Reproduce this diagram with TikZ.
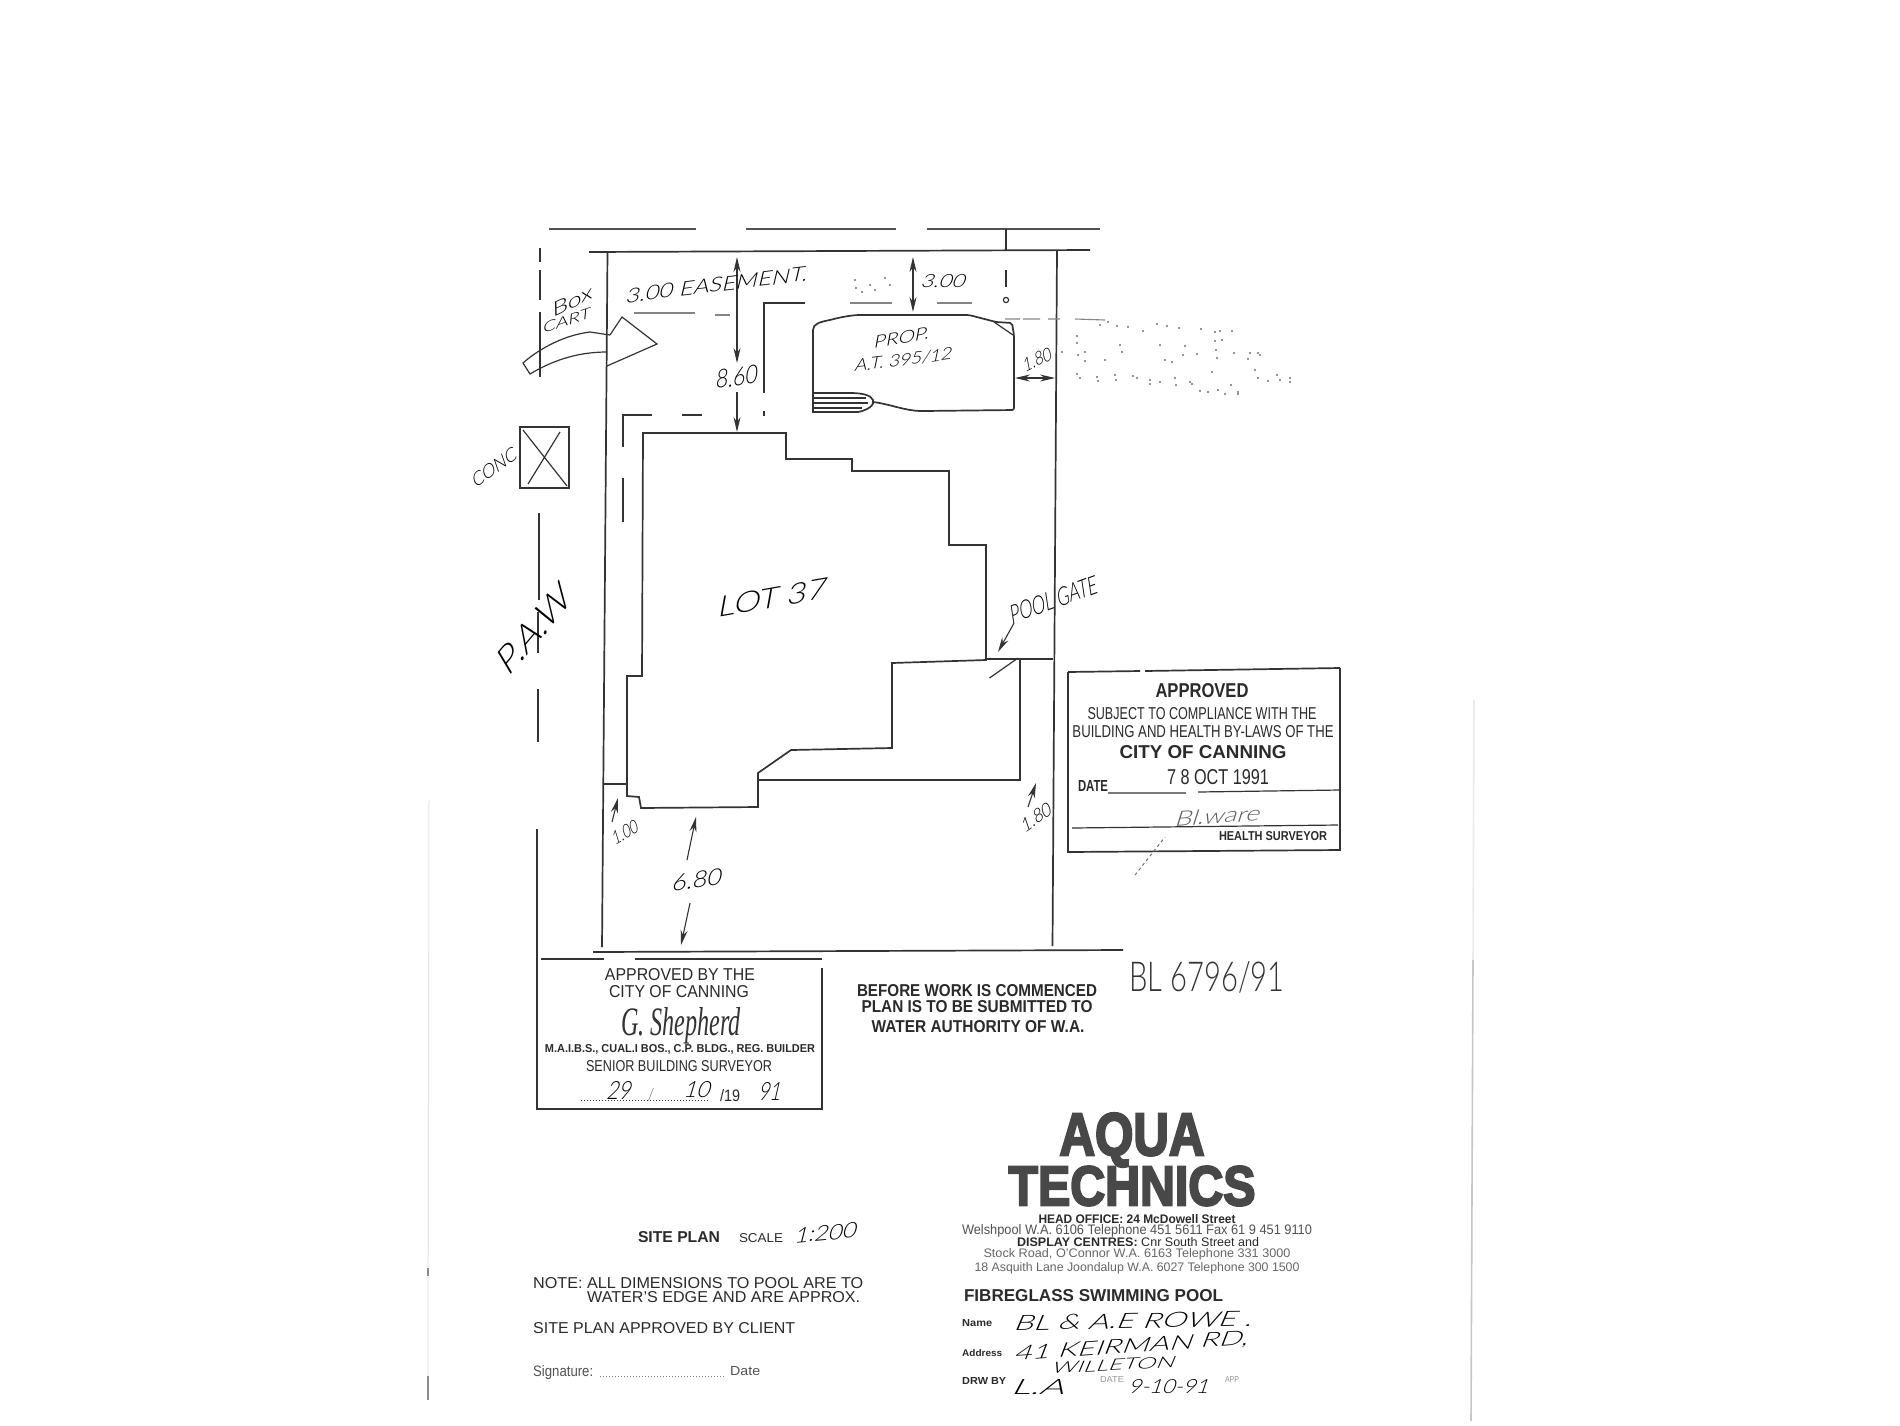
\documentclass[tikz,border=0pt]{standalone}
\usepackage{graphicx}
\usepackage{fontspec}
\setmainfont{Liberation Sans}
\newfontfamily\boldlogo[FakeBold=4]{Liberation Sans Bold}
\newfontfamily\handf[FakeSlant=0.3]{Lato Light}
\newfontfamily\handu{Lato Light}
\newfontfamily\scriptf{Liberation Serif Italic}
\usetikzlibrary{arrows.meta}
\newcommand\fit[3]{\resizebox{#1pt}{#2pt}{#3}}
\definecolor{ink}{HTML}{333333}
\definecolor{inkb}{HTML}{2A2A2A}
\definecolor{logoink}{HTML}{484848}
\tikzset{
  plan/.style={draw=ink,line width=1.7pt},
  thin plan/.style={draw=ink,line width=1.2pt},
  faint/.style={draw=ink!60,line width=1.1pt},
  edge line/.style={draw=black!22,line width=1.6pt},
  txt/.style={inner sep=0pt,text=inkb},
  hand/.style={inner sep=0pt,text=black,font=\handf},
  dimarrow/.style={draw=ink,line width=1.1pt,-{Stealth[length=15pt,width=7pt]}},
  dimboth/.style={draw=ink,line width=1.1pt,{Stealth[length=15pt,width=7pt]}-{Stealth[length=15pt,width=7pt]}},
  speck/.style={fill=ink!70,draw=none}
}
\begin{document}
\begin{tikzpicture}[x=1pt,y=-1pt]
\useasboundingbox (0,0) rectangle (1900,1425);
\fill[white] (0,0) rectangle (1900,1425);
% scan edges
\draw[edge line] (1473,960) -- (1471,1421);
\draw[edge line,draw=black!8] (1474,700) -- (1473,960);
\draw[draw=black!10,line width=1pt] (429,800) -- (428,1400);
\draw[draw=black!45,line width=1.4pt] (428,1268) -- (428,1276) (428,1376) -- (428,1400);
% top boundary
\draw[plan,draw=ink!85] (549,229) -- (696,229) (746,229) -- (896,229) (927,229) -- (1100,229);
\draw[plan] (589,252) -- (1090,250);
\draw[thin plan] (1006,229) -- (1006,250);
\draw[thin plan] (1006,270) -- (1006,287);
\draw[thin plan] (1006,300) circle (2.6);
% lot
\draw[plan] (607.5,252) -- (602,947);
\draw[plan] (1057,250) -- (1052.5,946);
\draw[plan] (593,952) -- (1123,950);
% road line
\draw[thin plan] (540,248) -- (540,262) (540,270) -- (540,300) (540,312) -- (540,377);
\draw[thin plan] (539,513) -- (539,600) (538,612) -- (538,653) (538,689) -- (538,742) (537,829) -- (537,960);
% building
\draw[plan] (643,433) -- (786,433) -- (786,459) -- (852,459) -- (852,471) -- (949,471) -- (949,545) -- (986,545) -- (986,660) -- (892,663) -- (892,748) -- (791,750) -- (758,773) -- (758,807) -- (641,808) -- (639,797) -- (627,796) -- (627,676) -- (642,676) -- cycle;
% patio
\draw[plan] (758,780) -- (1020,780) -- (1020,659);
% fences
\draw[draw=ink,line width=2.6pt] (986,659) -- (1053,659);
\draw[draw=ink,line width=2.6pt] (603,784) -- (627,784);
\draw[thin plan] (989.5,678) -- (1018,658);
% pool
\draw[plan,rounded corners=2pt] (813,393) -- (813,332) .. controls (813,324) and (820,322) .. (830,320) .. controls (845,316) and (855,315) .. (862,315) -- (969,315) -- (996,322) -- (1012,323) -- (1014,335) -- (1014,410) -- (924,411) .. controls (905,411) and (890,404) .. (873,402);
\draw[plan] (813,393) -- (813,412) -- (858,412) .. controls (868,410) and (875,405) .. (873,400) .. controls (871,395) and (862,393) .. (850,393) -- (813,393);
\draw[thin plan] (813,398) -- (866,398) (813,403) -- (868,403) (813,408) -- (862,408);
\draw[thin plan] (994,322) -- (1013,335);
% setback dashes
\draw[thin plan] (805,303) -- (764,303) -- (764,393) (764,411) -- (764,416);
\draw[faint] (850,303) -- (892,303) (937,303) -- (972,303);
\draw[thin plan] (652,415) -- (623,415) -- (623,447) (623,478) -- (623,522);
\draw[thin plan] (682,415) -- (702,415);
\draw[faint] (634,313) -- (695,313) (715,315) -- (730,315);
\draw[faint] (1005,319) -- (1020,319) (1023,319) -- (1040,319) (1048,319) -- (1060,319) (1075,319) -- (1105,320);
% large access arrow
\draw[thin plan] (610,335) -- (622,317) -- (657,344) -- (607,366);
\draw[thin plan] (610,335) -- (590,332) .. controls (565,335) and (540,348) .. (523,363) -- (530,374) .. controls (550,362) and (575,352) .. (607,352);
% box
\draw[plan] (520,427) rectangle (569,488);
\draw[thin plan] (523,430) -- (567,486) (560,432) -- (528,484);
% dimension arrows
\draw[dimboth] (737,363) -- (737,257);
\draw[dimarrow] (737,392) -- (737,432);
\draw[dimboth] (913,257) -- (913,312);
\draw[dimboth] (1015,378) -- (1055,378);
\draw[dimarrow] (1014,623) -- (998,652);
\draw[dimarrow] (612,822) -- (618,798);
\draw[dimarrow] (687,860) -- (696,817);
\draw[dimarrow] (690,903) -- (681,945);
\draw[dimarrow] (1028,807) -- (1036,783);
% handwriting
\node[hand,rotate=7] (easement) at (715,285) {\fit{183}{14}{3.00 EASEMENT.}};
\node[hand] (dimthree) at (942,281) {\fit{44}{13}{3.00}};
\node[hand,rotate=8] (dimeight) at (735,377) {\fit{42}{18}{8.60}};
\node[hand,rotate=10] (prop) at (900,338) {\fit{56}{12}{PROP.}};
\node[hand,rotate=7] (model) at (902,360) {\fit{98}{12}{A.T. 395/12}};
\node[hand,rotate=25] (dimone) at (1036,360) {\fit{30}{13}{1.80}};
\node[hand,rotate=10] (lot) at (770,598) {\fit{110}{20}{LOT 37}};
\node[hand,rotate=20] (gate) at (1052,600) {\fit{92}{18}{POOL GATE}};
\node[hand,rotate=50] (paw) at (532,632) {\fit{100}{24}{P.A.W}};
\node[hand,rotate=36] (conc) at (493,468) {\fit{52}{13}{CONC}};
\node[hand,rotate=25] (boxword) at (570,302) {\fit{44}{13}{Box}};
\node[hand,rotate=18] (cart) at (565,321) {\fit{50}{10}{CART}};
\node[hand,rotate=30] (dimhundred) at (624,833) {\fit{28}{13}{1.00}};
\node[hand,rotate=8] (dimsix) at (695,880) {\fit{50}{16}{6.80}};
\node[hand,rotate=35] (dimoneeight) at (1035,818) {\fit{34}{13}{1.80}};
\node[txt,text=ink,font=\handu] (blnum) at (1207,977) {\fit{155}{30}{BL 6796/91}};
% health stamp
\draw[plan] (1068,672) -- (1140,671) (1145,671) -- (1340,668);
\draw[plan] (1068,672) -- (1068,852) -- (1340,850) -- (1340,668);
\draw[thin plan] (1108,793) -- (1186,793) (1198,792) -- (1340,790);
\draw[thin plan] (1072,828) -- (1338,825);
\node[txt] (approved) at (1202,691) {\fit{93}{14}{\bfseries APPROVED}};
\node[txt] (subject) at (1202,714) {\fit{229}{12}{SUBJECT TO COMPLIANCE WITH THE}};
\node[txt] (bylaws) at (1203,732) {\fit{261}{12}{BUILDING AND HEALTH BY-LAWS OF THE}};
\node[txt] (citya) at (1203,752) {\fit{167}{13}{\bfseries CITY OF CANNING}};
\node[txt] (datea) at (1093,786) {\fit{30}{11}{\bfseries DATE}};
\node[txt] (dateval) at (1218,777) {\fit{102}{15}{7 8 OCT 1991}};
\node[hand,text=ink!80,rotate=4] (sign) at (1216,816) {\fit{85}{15}{Bl.ware}};
\node[txt] (healthsurv) at (1273,836) {\fit{108}{9}{\bfseries HEALTH SURVEYOR}};
\draw[dashed,draw=ink!70,line width=1pt] (1135,875) -- (1165,837);
% building surveyor stamp
\draw[plan] (541,959) -- (604,959) (635,959) -- (822,959);
\draw[plan] (537,829) -- (537,1109) -- (822,1109) -- (822,968);
\node[txt] (apprby) at (680,975) {\fit{150}{12}{APPROVED BY THE}};
\node[txt] (cityb) at (679,992) {\fit{140}{12}{CITY OF CANNING}};
\node[inner sep=0pt,text=ink,font=\scriptf] (shep) at (681,1026) {\fit{120}{28}{G. Shepherd}};
\node[txt] (quals) at (680,1049) {\fit{270}{8}{\bfseries M.A.I.B.S., CUAL.I BOS., C.P. BLDG., REG. BUILDER}};
\node[txt] (seniorb) at (679,1066) {\fit{186}{11}{SENIOR BUILDING SURVEYOR}};
\draw[draw=ink,line width=1pt,dotted] (581,1100) -- (710,1100);
\node[hand] (dday) at (618,1090) {\fit{24}{18}{29}};
\node[hand] (dslash) at (650,1095) {\fit{4}{12}{/}};
\node[hand] (dmonth) at (696,1090) {\fit{26}{16}{10}};
\node[txt] (dcent) at (730,1096) {\fit{20}{12}{/19}};
\node[hand] (dyear) at (769,1091) {\fit{22}{18}{91}};
% water authority note
\node[txt] (before) at (977,991) {\fit{240}{12}{\bfseries BEFORE WORK IS COMMENCED}};
\node[txt] (planis) at (977,1007) {\fit{231}{12}{\bfseries PLAN IS TO BE SUBMITTED TO}};
\node[txt] (water) at (978,1027) {\fit{213}{12}{\bfseries WATER AUTHORITY OF W.A.}};
% logo
\node[inner sep=0pt,text=logoink] (aqua) at (1132,1140) {\fit{145}{42}{\boldlogo AQUA}};
\node[inner sep=0pt,text=logoink] (technics) at (1132,1186) {\fit{247}{39}{\boldlogo TECHNICS}};
\node[txt] (headoff) at (1137,1219) {\fit{197}{9}{\bfseries HEAD OFFICE: 24 McDowell Street}};
\node[txt,text=ink!85] (welsh) at (1137,1231) {\fit{350}{10}{Welshpool W.A. 6106 Telephone 451 5611 Fax 61 9 451 9110}};
\node[txt] (display) at (1138,1242) {\fit{242}{9}{\bfseries DISPLAY CENTRES: \mdseries Cnr South Street and}};
\node[txt,text=ink!75] (stock) at (1137,1254) {\fit{307}{9}{Stock Road, O'Connor W.A. 6163 Telephone 331 3000}};
\node[txt,text=ink!75] (asquith) at (1137,1268) {\fit{325}{9}{18 Asquith Lane Joondalup W.A. 6027 Telephone 300 1500}};
\node[txt] (fibre) at (1093.5,1296) {\fit{259}{12}{\bfseries FIBREGLASS SWIMMING POOL}};
\node[txt,anchor=west] (name) at (962,1323) {\fit{30}{7}{\bfseries Name}};
\node[hand,rotate=1] (owner) at (1132,1321) {\fit{238}{15}{BL \& A.E ROWE .}};
\node[txt,anchor=west] (address) at (962,1353) {\fit{40}{7}{\bfseries Address}};
\node[hand,rotate=4] (street) at (1130,1347) {\fit{234}{14}{41 KEIRMAN RD,}};
\node[hand,rotate=3] (suburb) at (1112,1365) {\fit{123}{11}{WILLETON}};
\node[txt,anchor=west] (drawn) at (962,1381) {\fit{44}{7}{\bfseries DRW BY}};
\node[hand] (drawer) at (1037,1387) {\fit{53}{15}{L.A}};
\node[txt,text=ink!50] (datelabel) at (1112,1379) {\fit{24}{6}{DATE}};
\node[hand] (drawdate) at (1168,1387) {\fit{80}{14}{9-10-91}};
\node[txt,text=ink!50] (applabel) at (1232,1379) {\fit{14}{6}{APP}};
% site plan notes
\node[txt] (siteplan) at (679,1237) {\fit{82}{11}{\bfseries SITE PLAN}};
\node[txt] (scale) at (761,1238) {\fit{44}{9}{SCALE}};
\node[hand,rotate=5] (ratio) at (824,1233) {\fit{62}{15}{1:200}};
\node[txt,anchor=west] (note) at (533,1283) {\fit{330}{11}{NOTE: ALL DIMENSIONS TO POOL ARE TO}};
\node[txt,anchor=west] (waters) at (587,1297) {\fit{273}{11}{WATER'S EDGE AND ARE APPROX.}};
\node[txt,anchor=west] (client) at (533,1328) {\fit{262}{11}{SITE PLAN APPROVED BY CLIENT}};
\node[txt,anchor=west,text=ink!85] (sigword) at (533,1373) {\fit{60}{11}{Signature:}};
\draw[draw=ink!60,line width=1pt,dotted] (600,1376) -- (725,1376);
\node[txt,anchor=west,text=ink!85] (dateword) at (730,1371) {\fit{30}{9}{Date}};
% speckles of the faded stamp
\foreach \px/\py in {1100/325,1108/322,1117/326,1128/327,1143/331,1157/324,1167/326,1179/328,1201/329,1215/332,1220/331,1232/331,1215/341,1077/336,1077/343,1120/345,1122/352,1160/345,1185/346,1222/340,1183/355,1197/354,1216/350,1217/358,1234/353,1250/353,1258/353,1248/359,1260/355,1077/374,1080/378,1097/377,1098/381,1115/375,1116/380,1133/376,1137/378,1150/380,1150/384,1160/382,1175/378,1176/385,1190/382,1192/384,1200/391,1208/392,1218/390,1231/385,1238/392,1255/370,1212/372,1225/394,1238/394,1258/378,1268/381,1277/375,1280/380,1290/382,1290/378,1105/360,1085/361,1085/352,1062/352,1078/355,1165/360,1172/362,855/280,856/288,870/285,875/290,885/278,890/285,862/292}
  \fill[speck] (\px,\py) circle (1.1);
\end{tikzpicture}
\end{document}
